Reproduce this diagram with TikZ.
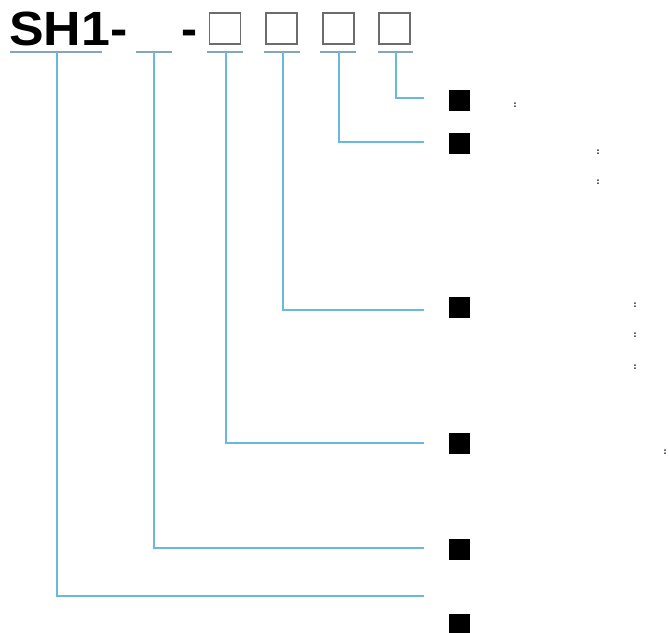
\documentclass[tikz,border=0pt]{standalone}
\usepackage{fontspec}
\newfontfamily\arialbold{Liberation Sans}
\usetikzlibrary{positioning,calc}
\definecolor{leadblue}{RGB}{105,185,220}
\definecolor{ulinegray}{RGB}{135,165,185}
\tikzset{
  code/.style={font=\arialbold\bfseries\fontsize{41}{41}\selectfont,inner sep=0pt,anchor=base west},
  slot/.style={draw=gray!85!black,line width=1.3pt,minimum size=0.93cm,inner sep=0pt},
  uline/.style={draw=ulinegray,line width=0.9pt},
  lead/.style={draw=leadblue,line width=0.9pt},
  bullet/.style={fill=black,minimum size=0.63cm,inner sep=0pt},
  colon/.style={font=\bfseries\fontsize{9}{9}\selectfont,inner sep=0pt}
}
\begin{document}
\begin{tikzpicture}[x=0.03cm,y=-0.03cm]
	\useasboundingbox (0,0) rectangle (669,632);
	
	% model code
	\node[code,xscale=1.08,transform shape] (sh) at (9,45) {SH1-};
	\node[code] (dash) at (181,45) {-};
	\node[slot] (sa) at (225,28.5) {};
	\node[slot] (sb) at (281.5,28.5) {};
	\node[slot] (sc) at (338.5,28.5) {};
	\node[slot] (sd) at (394.5,28.5) {};
	
	% underlines
	\draw[uline] (10,52)--(102,52);
	\draw[uline] (136,52)--(172,52);
	\draw[uline] (207,52)--(243,52);
	\draw[uline] (264,52)--(300,52);
	\draw[uline] (320,52)--(356,52);
	\draw[uline] (378,52)--(413,52);
	\coordinate (u1) at (57,52);
	\coordinate (u2) at (154,52);
	\coordinate (u3) at (226,52);
	\coordinate (u4) at (283,52);
	\coordinate (u5) at (339,52);
	\coordinate (u6) at (396,52);
	
	% items
	\node[bullet] (b6) at (459.5,100) {};
	\node[bullet] (b5) at (459.5,143) {};
	\node[bullet] (b4) at (459.5,307.5) {};
	\node[bullet] (b3) at (459.5,443.5) {};
	\node[bullet] (b2) at (459.5,549.5) {};
	\node[bullet] (b1) at (459.5,624) {};
	
	\coordinate (e6) at (424,98);
	\coordinate (e5) at (424,142);
	\coordinate (e4) at (424,310);
	\coordinate (e3) at (424,443);
	\coordinate (e2) at (424,548);
	\coordinate (e1) at (424,596);
	
	\draw[lead] (u6)|-(e6);
	\draw[lead] (u5)|-(e5);
	\draw[lead] (u4)|-(e4);
	\draw[lead] (u3)|-(e3);
	\draw[lead] (u2)|-(e2);
	\draw[lead] (u1)|-(e1);
	
	% colons
	\node[colon] (c1) at (515,105) {:};
	\node[colon] (c2) at (598,152) {:};
	\node[colon] (c3) at (598,182) {:};
	\node[colon] (c4) at (635,305) {:};
	\node[colon] (c5) at (635,335) {:};
	\node[colon] (c6) at (635,367) {:};
	\node[colon] (c7) at (665,452) {:};
\end{tikzpicture}
\end{document}
